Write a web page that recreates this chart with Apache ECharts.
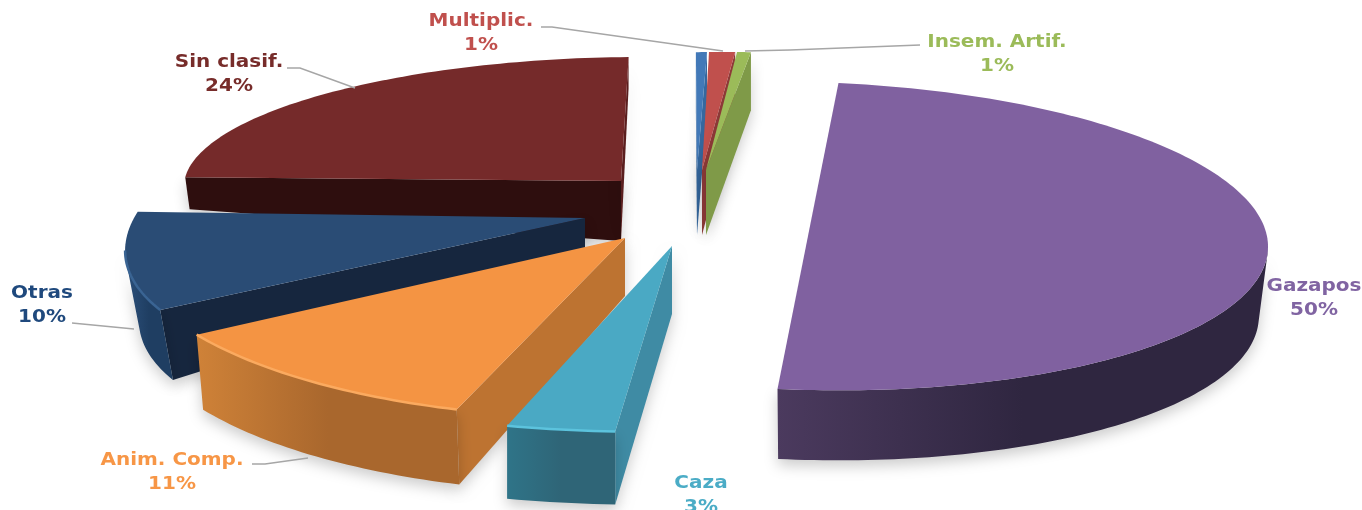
<!DOCTYPE html>
<html>
<head>
<meta charset="utf-8">
<style>html,body{margin:0;padding:0;background:#fff;overflow:hidden}#c{width:1362px;height:510px}</style>
<script src="https://cdn.jsdelivr.net/npm/echarts@6/dist/echarts.min.js"></script>
</head>
<body>
<div id="c"></div>
<script>
// data, in pie order (clockwise)
const categories = ['Gazapos','Caza','Anim. Comp.','Otras','Sin clasif.','','Multiplic.','Insem. Artif.'];
const values = [50, 3, 11, 10, 24, 0.4, 0.8, 0.8];

// layout of each exploded slice: apex x,y, radii, shear x, shear y, wall depth at apex/rim, wall inset
const sliceLayout = [
  [808,236,460,154,  1.6,10,70,70,.02],
  [672,246,585,186,-16,  0,68,73,0],
  [625,238,496,180,-43, 10,58,75,.015],
  [585,218,448,165,-104, 5,32,70,.03],
  [621,181,436,124,-32,  3,60,32,.01],
  [697,170,440,118,-23.5,0,65,60,0],
  [702,170,520,118,-23,  0,65,58,0],
  [706,170,278,118,-25.6,0,65,58,0]
];
const drawOrder = [5,6,7,4,3,2,1,0];
const topColors = ['#8061a0','#4aa9c4','#f49443','#2a4c75','#752a2a','#4279b8','#c0504d','#9bbb59'];
const bandColors = [['#4b3a5e','#2f2640'],['#2f7488','#2f6577'],['#cf8238','#a9672d'],['#2c507b','#1f3e62'],['#2e0e0e','#2e0e0e'],['#35689f','#35689f'],['#8e3a38','#8e3a38'],['#7f9a48','#7f9a48']];
const startWall = ['#3a2c4c','#3f8ba4','#bd7331','#16263e','#2e0e0e','#35689f','#8e3a38','#7f9a48'];
const endWall = ['#3a2c4c','#3f8ba4','#bd7331','#16263e','#5a1e1e','#35689f','#8e3a38','#7f9a48'];
const rimLight = ['','#5cc3dd','#fbaa5f','#3a6493','','','',''];
const labelColors = ['#8064a2','#4bacc6','#f79646','#1f497d','#772c2a','','#c0504d','#9bbb59'];
const labelPos = [[1314,274],[701,471],[172,448],[42,281],[229,50],null,[481,9],[997,30]];
const leaders = [null,null,[[252,464],[265,464],[308,458]],[[72,323],[134,329]],[[287,68],[300,68],[355,88]],null,[[541,27],[552,27],[723,51]],[[745,51],[790,50],[920,45]]];

const total = values.reduce((a,b)=>a+b,0);
const startDeg = -86;
let acc = startDeg;
const rows = values.map((v,i)=>{const s=acc; acc+=v/total*360; return [s,acc,i,v];});
const data = drawOrder.map(i=>rows[i]);

function faces(p,q,inner){
  // a wall under edge p-q can be seen when "down" points away from the inner side of the edge
  const dx=q[0]-p[0], dy=q[1]-p[1];
  return dx*(inner[1]-p[1])-dy*(inner[0]-p[0]) !== 0 && dx*((inner[1]-p[1])*dx-(inner[0]-p[0])*dy) < 0;
}
function quadPath(a,b,c,d){
  const area=(b[0]-a[0])*(c[1]-a[1])-(b[1]-a[1])*(c[0]-a[0]);
  const pts=area>=0?[a,b,c,d]:[d,c,b,a];
  return 'M'+pts.map(p=>p[0].toFixed(2)+' '+p[1].toFixed(2)).join('L')+'Z';
}

function renderItem(params, api){
  const a0=api.value(0)*Math.PI/180, a1=api.value(1)*Math.PI/180, i=api.value(2), v=api.value(3);
  const [ax,ay,rx,ry,sx,sy,dA,dR,inset]=sliceLayout[i];
  const pt=t=>{const u=Math.cos(t),w=Math.sin(t);return [ax+rx*u+sx*w, ay+ry*w+sy*u];};
  const low=p=>[p[0]-(p[0]-ax)*inset, p[1]+dR];
  const apex=[ax,ay], apexLow=[ax,ay+dA];
  const n=Math.max(4,Math.ceil((a1-a0)/0.02));
  const arc=[];
  for(let k=0;k<=n;k++) arc.push(pt(a0+(a1-a0)*k/n));
  const arcLow=arc.map(low);
  const mid=pt((a0+a1)/2);
  const inner=[(ax+mid[0])/2,(ay+mid[1])/2];
  const shadow={shadowColor:'rgba(0,0,0,0.2)',shadowBlur:14,shadowOffsetY:6};
  const poly=(points,style)=>({type:'polygon',shape:{points},style,silent:true});
  const band=new echarts.graphic.LinearGradient(0,0,1,0,[{offset:0,color:bandColors[i][0]},{offset:.5,color:bandColors[i][1]},{offset:1,color:bandColors[i][1]}]);
  const children=[];
  if(faces(apex,arc[0],inner)) children.push(poly([apex,arc[0],arcLow[0],apexLow],Object.assign({fill:startWall[i]},shadow)));
  if(faces(apex,arc[n],inner)) children.push(poly([apex,arc[n],arcLow[n],apexLow],Object.assign({fill:endWall[i]},shadow)));
  let d='';
  const front=[];
  for(let k=0;k<n;k++){
    if(faces(arc[k],arc[k+1],apex)){ d+=quadPath(arc[k],arc[k+1],arcLow[k+1],arcLow[k]); front.push(arc[k]); if(k===n-1||!faces(arc[k+1],arc[k+2]||arc[k+1],apex)) front.push(arc[k+1]); }
  }
  if(d) children.push({type:'path',shape:{pathData:d},style:Object.assign({fill:band},shadow),silent:true});
  children.push(poly([apex].concat(arc),{fill:topColors[i]}));
  if(rimLight[i]&&front.length>1) children.push({type:'polyline',shape:{points:front},style:{stroke:rimLight[i],lineWidth:2.5,fill:null},silent:true});
  if(leaders[i]) children.push({type:'polyline',shape:{points:leaders[i]},style:{stroke:'#a6a6a6',lineWidth:1.5,fill:null},silent:true});
  if(labelPos[i]) children.push({type:'text',x:labelPos[i][0],y:labelPos[i][1],scaleX:1.08,silent:true,style:{
    text:categories[i]+'\n'+Math.round(v/total*100)+'%',align:'center',verticalAlign:'top',
    font:'bold 18.5px "DejaVu Sans"',lineHeight:24,fill:labelColors[i]}});
  return {type:'group',children};
}

const chart=echarts.init(document.getElementById('c'),null,{renderer:'canvas'});
chart.setOption({
  animation:false,
  backgroundColor:'#ffffff',
  series:[{type:'custom',coordinateSystem:'none',renderItem,data,silent:true}]
});
</script>
</body>
</html>
